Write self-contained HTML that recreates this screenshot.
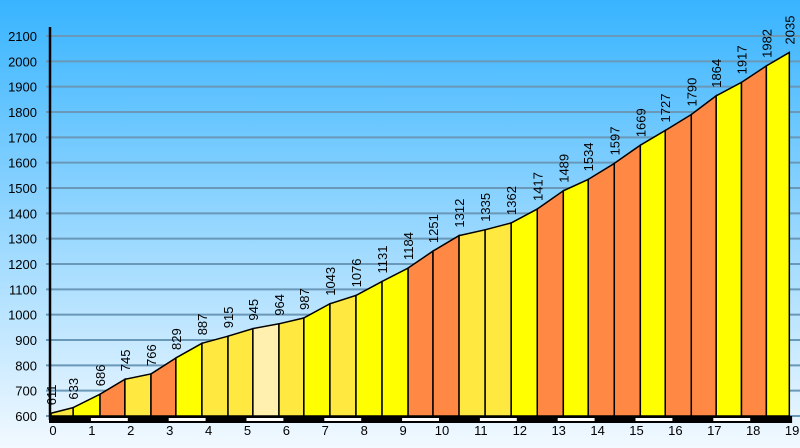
<!DOCTYPE html>
<html><head><meta charset="utf-8"><style>
html,body{margin:0;padding:0}
body{width:800px;height:448px;overflow:hidden}
svg{display:block;font-family:"Liberation Sans",sans-serif}
</style></head><body>
<svg id="chart" width="800" height="448" viewBox="0 0 800 448">
<defs><linearGradient id="bg" x1="0" y1="0" x2="0" y2="1">
<stop offset="0" stop-color="#38b4ff"/><stop offset="1" stop-color="#f2f9ff"/></linearGradient></defs>
<rect x="0" y="0" width="800" height="448" fill="url(#bg)"/>
<g id="grid"></g><g id="areas"></g><g id="labels"></g><g id="axes"></g>
</svg>
<script>
const elevations=[611,633,686,745,766,829,887,915,945,964,987,1043,1076,1131,1184,1251,1312,1335,1362,1417,1489,1534,1597,1669,1727,1790,1864,1917,1982,2035];
const distances=[0,0.57,1.26,1.90,2.57,3.21,3.88,4.55,5.19,5.86,6.50,7.17,7.84,8.51,9.18,9.82,10.49,11.16,11.83,12.50,13.17,13.81,14.48,15.15,15.79,16.46,17.10,17.75,18.39,18.98];
const gradeClass=[1,2,3,1,3,2,1,1,0,1,2,1,2,2,3,3,1,1,2,3,2,3,3,2,3,3,2,3,2];
const yTicks=[600,700,800,900,1000,1100,1200,1300,1400,1500,1600,1700,1800,1900,2000,2100];
const xTicks=[0,1,2,3,4,5,6,7,8,9,10,11,12,13,14,15,16,17,18,19];
const palette=['#fff0b0','#ffe840','#ffff00','#ff8844'];
const NS="http://www.w3.org/2000/svg";
const X=d=>51+d*38.9;
const Y=v=>416-(v-600)*380/1500;
function mk(tag,attrs,parent,text){const e=document.createElementNS(NS,tag);for(const k in attrs)e.setAttribute(k,attrs[k]);if(text!==undefined)e.textContent=text;parent.appendChild(e);return e;}
const grid=document.getElementById('grid'),areas=document.getElementById('areas'),labels=document.getElementById('labels'),axes=document.getElementById('axes');
yTicks.forEach(v=>{
  const l=mk('line',{x1:46,x2:800,y1:Y(v),y2:Y(v),stroke:'#6a98b8','stroke-width':2},grid);
  
  
  const t=mk('text',{x:37,y:Y(v)+5,'text-anchor':'end','font-size':13,fill:'#000'},grid,String(v));
  
  
});
for(let i=0;i<elevations.length-1;i++){
  const x0=X(distances[i]),x1=X(distances[i+1]);
  const p=mk('polygon',{points:`${x0},416 ${x0},${Y(elevations[i])} ${x1},${Y(elevations[i+1])} ${x1},416`,fill:palette[gradeClass[i]],stroke:'#000','stroke-width':1.5},areas);
  
  
}
elevations.forEach((v,i)=>{
  const x=X(distances[i]),y=Y(v)-8;
  const t=mk('text',{x:0,y:0,transform:`translate(${x+5},${y}) rotate(-90)`,'font-size':13,fill:'#000'},labels,String(v));
  
  
});
const ax=mk('line',{x1:50,x2:50,y1:27,y2:420,stroke:'#000','stroke-width':2.5},axes);


const bar=mk('rect',{x:49,y:416,width:X(19)-49+2,height:7,fill:'#000'},axes);


xTicks.forEach(k=>{
  if(k%2===1&&k<19){
    const w=mk('rect',{x:X(k)+1,y:418,width:X(k+1)-X(k)-2,height:3,fill:'#fff'},axes);
    
    
  }
  const t=mk('text',{x:X(k)+2,y:435,'text-anchor':'middle','font-size':13,fill:'#000'},axes,String(k));
  
  
});
</script>
</body></html>
